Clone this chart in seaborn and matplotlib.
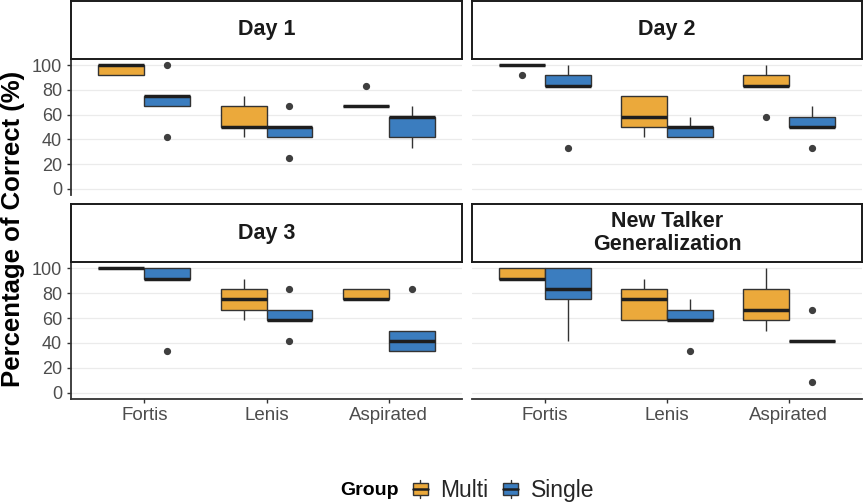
import numpy as np
import pandas as pd
import matplotlib
matplotlib.use("Agg")
import matplotlib.pyplot as plt
import seaborn as sns
from matplotlib.patches import Rectangle, Patch
from matplotlib.lines import Line2D
from matplotlib.legend_handler import HandlerBase

# ---------------- data (percent correct per participant) ----------------
consonants = ["Fortis", "Lenis", "Aspirated"]
groups = ["Multi", "Single"]
panels = ["Day 1", "Day 2", "Day 3", "New Talker\nGeneralization"]

day1_multi = {"Fortis": [91.67, 91.67, 100, 100, 100],
              "Lenis": [41.67, 50, 50, 66.67, 75],
              "Aspirated": [66.67, 66.67, 66.67, 66.67, 83.33]}
day1_single = {"Fortis": [41.67, 66.67, 75, 75, 100],
               "Lenis": [25, 41.67, 50, 50, 66.67],
               "Aspirated": [33.33, 41.67, 58.33, 58.33, 66.67]}

day2_multi = {"Fortis": [91.67, 100, 100, 100, 100],
              "Lenis": [41.67, 50, 58.33, 75, 75],
              "Aspirated": [58.33, 83.33, 83.33, 91.67, 100]}
day2_single = {"Fortis": [33.33, 83.33, 83.33, 91.67, 100],
               "Lenis": [41.67, 41.67, 50, 50, 58.33],
               "Aspirated": [33.33, 50, 50, 58.33, 66.67]}

day3_multi = {"Fortis": [100, 100, 100, 100, 100],
              "Lenis": [58.33, 66.67, 75, 83.33, 91.67],
              "Aspirated": [75, 75, 75, 83.33, 83.33]}
day3_single = {"Fortis": [33.33, 91.67, 91.67, 100, 100],
               "Lenis": [41.67, 58.33, 58.33, 66.67, 83.33],
               "Aspirated": [33.33, 33.33, 41.67, 50, 83.33]}

newtalker_multi = {"Fortis": [91.67, 91.67, 91.67, 100, 100],
                   "Lenis": [58.33, 58.33, 75, 83.33, 91.67],
                   "Aspirated": [50, 58.33, 66.67, 83.33, 100]}
newtalker_single = {"Fortis": [41.67, 75, 83.33, 100, 100],
                    "Lenis": [33.33, 58.33, 58.33, 66.67, 75],
                    "Aspirated": [8.33, 41.67, 41.67, 41.67, 66.67]}

panel_data = {
    "Day 1": {"Multi": day1_multi, "Single": day1_single},
    "Day 2": {"Multi": day2_multi, "Single": day2_single},
    "Day 3": {"Multi": day3_multi, "Single": day3_single},
    "New Talker\nGeneralization": {"Multi": newtalker_multi, "Single": newtalker_single},
}

rows = []
for p in panels:
    for g in groups:
        for c in consonants:
            for v in panel_data[p][g][c]:
                rows.append({"Panel": p, "Group": g, "Consonant": c, "Score": v})
df = pd.DataFrame(rows)

palette = {"Multi": "#EBA93B", "Single": "#3B7DBF"}

# ---------------- figure ----------------
sns.set_style("white")
plt.rcParams["font.family"] = ["Liberation Sans", "DejaVu Sans"]

W, H = 864, 504
fig = plt.figure(figsize=(W / 100, H / 100), dpi=100)

cols = [(71, 462), (472, 862)]
plot_rows = [(59, 195), (262, 399)]
strip_rows = [(1, 59), (204, 262)]

edge = "#333333"
for i, p in enumerate(panels):
    r, c = divmod(i, 2)
    x0, x1 = cols[c]
    yt, yb = plot_rows[r]
    ax = fig.add_axes([x0 / W, 1 - yb / H, (x1 - x0) / W, (yb - yt) / H])
    ax.set_axisbelow(True)
    ax.yaxis.grid(True, color="#EBEBEB", linewidth=0.9)
    ax.xaxis.grid(False)
    sub = df[df["Panel"] == p]
    sns.boxplot(data=sub, x="Consonant", y="Score", hue="Group",
                order=consonants, hue_order=groups, palette=palette,
                saturation=1, width=0.75, gap=0, dodge=True,
                linewidth=1.0, linecolor=edge, showcaps=False,
                medianprops=dict(color="#1E1E1E", linewidth=2.5),
                flierprops=dict(marker="o", markerfacecolor="#3F3F3F",
                                markeredgecolor="#3F3F3F", markersize=4.2),
                legend=False, ax=ax)
    ax.set_ylim(-5, 105)
    ax.set_xlim(-0.6, 2.6)
    ax.set_yticks([0, 20, 40, 60, 80, 100])
    ax.set_xlabel("")
    ax.set_ylabel("")
    for s in ax.spines.values():
        s.set_visible(False)
    if c == 0:
        ax.spines["left"].set_visible(True)
        ax.spines["left"].set_color(edge)
        ax.spines["left"].set_linewidth(1.3)
        ax.tick_params(axis="y", left=True, length=3, width=1.0, color=edge,
                       labelsize=13, labelcolor="#4D4D4D", pad=3.5)
    else:
        ax.tick_params(axis="y", left=False, labelleft=False)
    if r == 1:
        ax.spines["bottom"].set_visible(True)
        ax.spines["bottom"].set_color(edge)
        ax.spines["bottom"].set_linewidth(1.3)
        ax.tick_params(axis="x", bottom=True, length=3, width=1.0, color=edge,
                       labelsize=13.5, labelcolor="#4D4D4D", pad=3)
    else:
        ax.tick_params(axis="x", bottom=False, labelbottom=False)

    # strip
    st, sb = strip_rows[r]
    sax = fig.add_axes([x0 / W, 1 - sb / H, (x1 - x0) / W, (sb - st) / H])
    sax.set_xticks([])
    sax.set_yticks([])
    sax.set_facecolor("white")
    for s in sax.spines.values():
        s.set_visible(True)
        s.set_color("#1A1A1A")
        s.set_linewidth(1.4)
    sax.text(0.5, 0.5, p, ha="center", va="center", fontsize=15.5,
             fontweight="bold", color="#1A1A1A", linespacing=1.15,
             transform=sax.transAxes)

# y label
fig.text(13 / W, 1 - 228.5 / H, "Percentage of Correct (%)", rotation=90,
         ha="center", va="center", fontsize=18.5, fontweight="bold",
         color="black")


# legend with boxplot-style keys
class BoxKeyHandler(HandlerBase):
    def create_artists(self, legend, orig_handle, xdescent, ydescent,
                       width, height, fontsize, trans):
        fc = orig_handle.get_facecolor()
        x0, y0 = -xdescent, -ydescent
        whisk = Line2D([x0 + width / 2, x0 + width / 2],
                       [y0, y0 + height],
                       color=edge, linewidth=1.0, transform=trans)
        box = Rectangle((x0 + 0.06 * width, y0 + 0.17 * height),
                        0.88 * width, 0.66 * height, facecolor=fc,
                        edgecolor=edge, linewidth=1.0, transform=trans)
        med = Line2D([x0 + 0.06 * width, x0 + 0.94 * width],
                     [y0 + 0.5 * height, y0 + 0.5 * height],
                     color="#1E1E1E", linewidth=1.8, transform=trans)
        return [whisk, box, med]


handles = [Patch(facecolor=palette[g], edgecolor=edge) for g in groups]
leg = fig.legend(handles, groups, handler_map={Patch: BoxKeyHandler()},
                 loc="center", bbox_to_anchor=(503 / W, 1 - 490.5 / H),
                 ncol=2, frameon=False, fontsize=16.5,
                 handlelength=0.75, handleheight=0.87, handletextpad=0.5,
                 columnspacing=0.6, borderpad=0, borderaxespad=0)
fig.text(340.5 / W, 1 - 490.5 / H, "Group", ha="left", va="center",
         fontsize=14, fontweight="bold", color="black")

fig.savefig("out.png", dpi=100, facecolor="white")
